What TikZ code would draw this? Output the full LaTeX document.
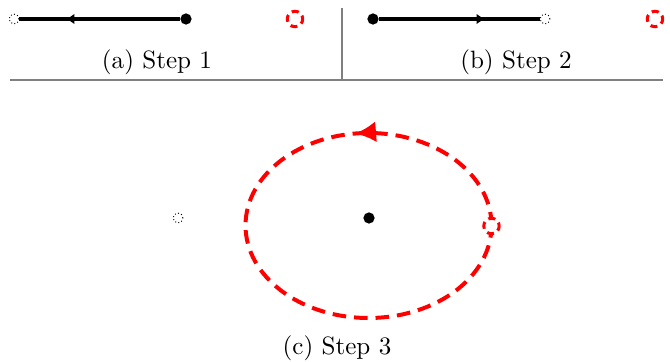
\documentclass[tikz,border=0pt]{standalone}
\usepackage{tikz}
\usetikzlibrary{arrows.meta, decorations.markings}
\tikzset{
  body/.style={circle, fill=black, inner sep=0pt, minimum size=4.8pt},
  ghost/.style={circle, draw=black, densely dotted, line width=0.4pt, fill=white, inner sep=0pt, minimum size=4.2pt},
  probe/.style={circle, draw=red, line width=1.3pt, dash pattern=on 3pt off 2pt, dash phase=1.5pt, fill=white, inner sep=0pt, minimum size=6.6pt},
  track/.style={line width=1.3pt},
  midarrow/.style={postaction={decorate, decoration={markings, mark=at position #1 with {\arrow{Latex[length=3.6pt,width=4.6pt]}}}}},
  orbit/.style={red, line width=1.7pt, dash pattern=on 5.8pt off 3.4pt},
  orbitarrow/.style={postaction={decorate, decoration={markings, mark=at position #1 with {\arrow{Latex[length=9pt,width=9pt]}}}}},
  caption/.style={font=\fontsize{10.7pt}{13pt}\selectfont},
  separator/.style={gray, line width=0.8pt}
}

\begin{document}
\begin{tikzpicture}[x=0.015cm, y=0.015cm]
    \useasboundingbox (0,0) rectangle (670,-362);

    % -------------------------------------------------------------
    % (a) Step 1
    % -------------------------------------------------------------
    \node[ghost] (openA) at (14,-19) {};
    \node[body]  (bodyA) at (186,-19) {};
    \node[probe] (probeA) at (295,-19) {};
    \draw[track, midarrow=0.71] (bodyA) -- (openA);
    \node[caption] (capA) at (157,-62) {(a) Step 1};

    % -------------------------------------------------------------
    % (b) Step 2
    % -------------------------------------------------------------
    \node[body]  (bodyB) at (373,-19) {};
    \node[ghost] (openB) at (545,-19) {};
    \node[probe] (probeB) at (655,-19) {};
    \draw[track, midarrow=0.66] (bodyB) -- (openB);
    \node[caption] (capB) at (516,-62) {(b) Step 2};

    % separadores
    \draw[separator] (10,-80) -- (663,-80);
    \draw[separator] (342,-8) -- (342,-80);

    % -------------------------------------------------------------
    % (c) Step 3
    % -------------------------------------------------------------
    \node[ghost] (openC) at (178,-218) {};
    \node[body]  (bodyC) at (369,-218) {};
    \draw[orbit, orbitarrow=0.27] (368.5,-225.5) ellipse [x radius=123, y radius=92.5];
    \node[probe] (probeC) at (491.5,-226) {};
    \node[caption] (capC) at (337,-348) {(c) Step 3};

\end{tikzpicture}
\end{document}
